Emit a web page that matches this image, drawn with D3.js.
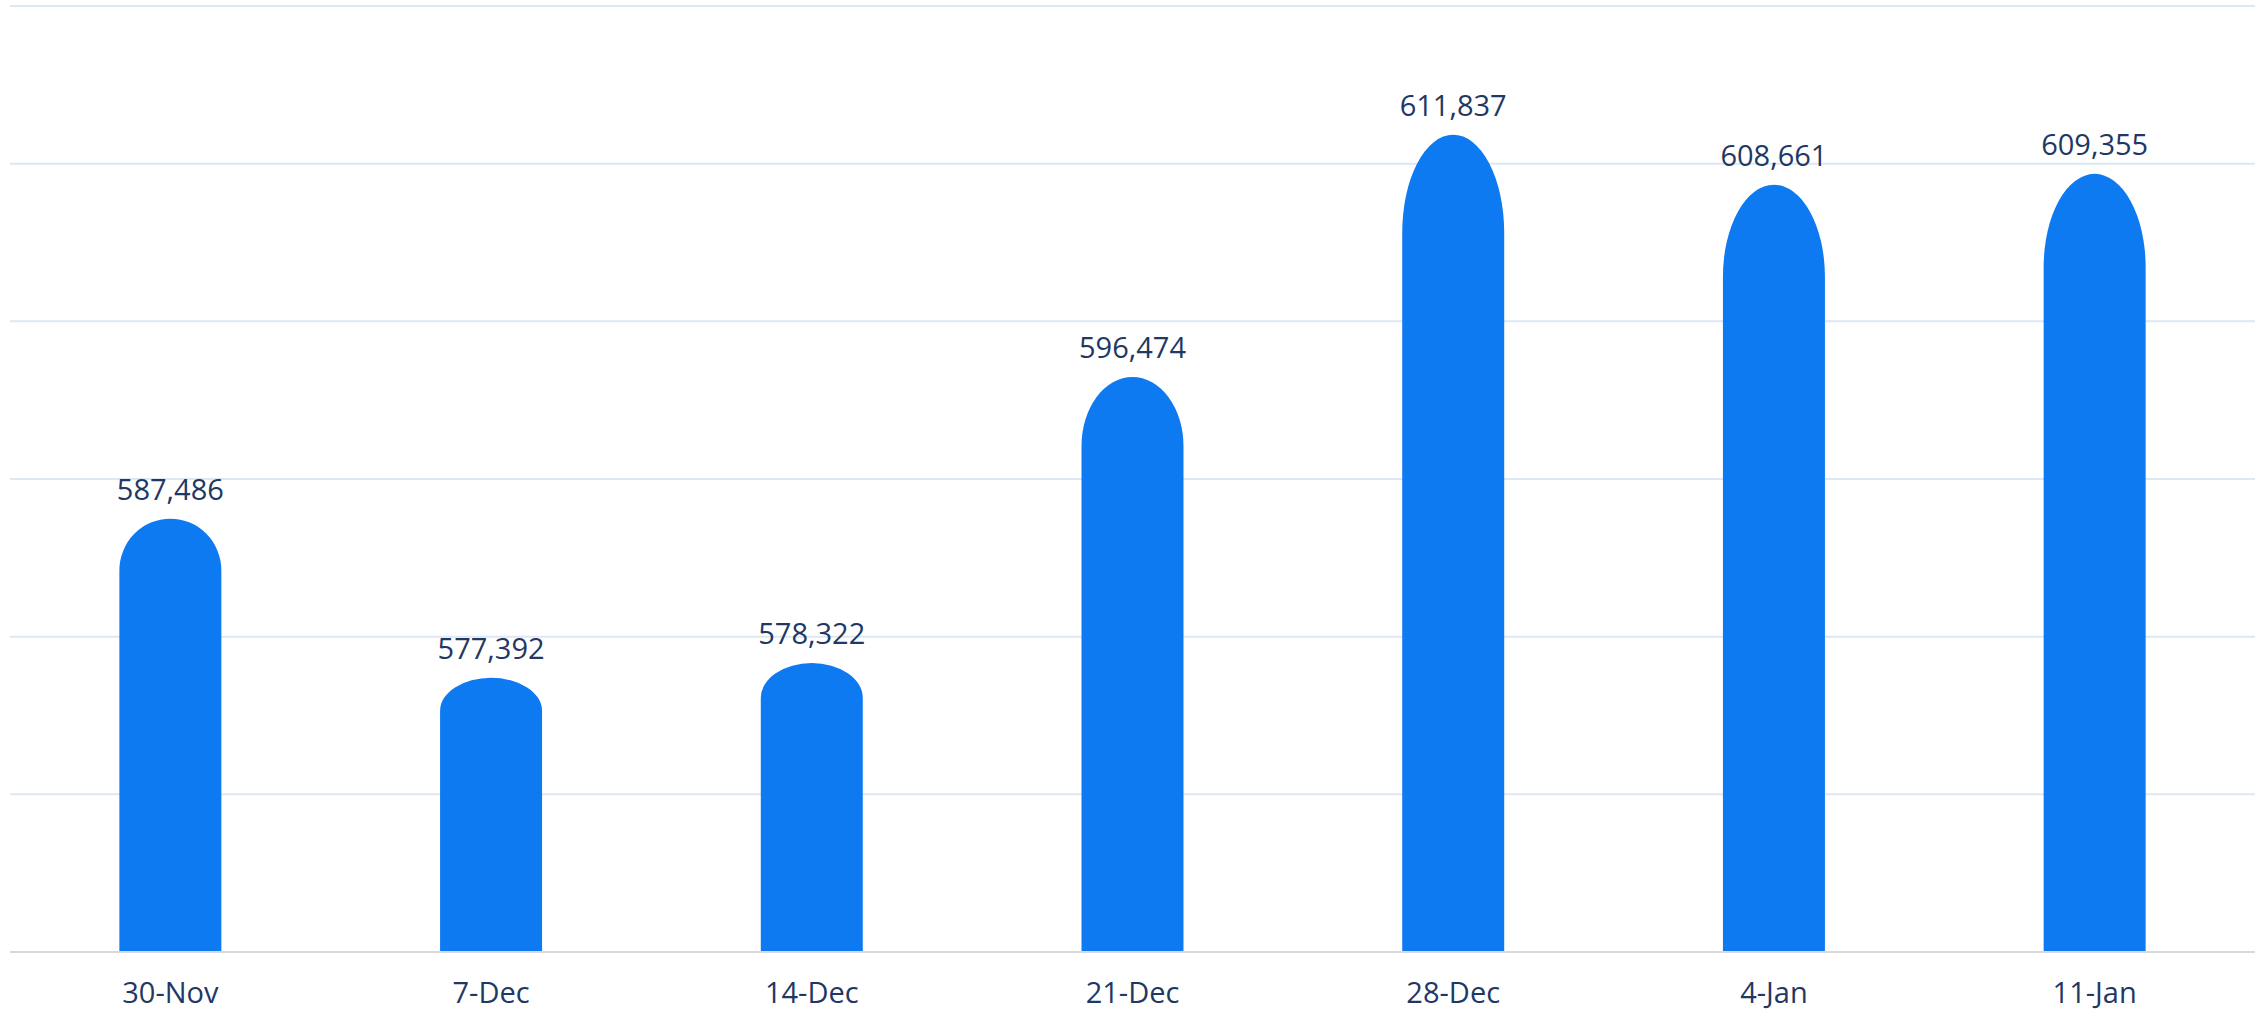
<!DOCTYPE html>
<html>
<head>
<meta charset="utf-8">
<script src="https://cdn.jsdelivr.net/npm/d3@7"></script>
<style>
html,body{margin:0;padding:0;background:#fff;}
svg{display:block;}
</style>
</head>
<body>
<svg id="chart" width="2267" height="1012"></svg>
<script>
const categories = ["30-Nov","7-Dec","14-Dec","21-Dec","28-Dec","4-Jan","11-Jan"];
const values = [587486, 577392, 578322, 596474, 611837, 608661, 609355];
const yTicks = [560000, 570000, 580000, 590000, 600000, 610000, 620000];
const yDomain = [560000, 620000];

const W = 2267, H = 1012;
const margin = {left: 10, right: 12, top: 6, bottom: 60};
const svg = d3.select("#chart");

const x = d3.scaleBand().domain(categories).range([margin.left, W - margin.right]).paddingInner(0.682).paddingOuter(0.341);
const y = d3.scaleLinear().domain(yDomain).range([H - margin.bottom, margin.top]);

const font = "'Open Sans', 'Noto Sans', sans-serif";
const textColor = "#1F3864";

// gridlines
svg.append("g").selectAll("line").data(yTicks.slice(1)).join("line")
  .attr("x1", margin.left).attr("x2", W - margin.right)
  .attr("y1", d => y(d)).attr("y2", d => y(d))
  .attr("stroke", "#DDE8F4").attr("stroke-width", 2);

// bars with elliptical domes
const base = y(yDomain[0]);
function barPath(d, i) {
  const x0 = x(categories[i]), w = x.bandwidth(), top = y(d);
  const h = base - top;
  const ry = h * 0.12, rx = w / 2;
  return `M${x0},${base} L${x0},${top + ry} A${rx},${ry} 0 0 1 ${x0 + w},${top + ry} L${x0 + w},${base} Z`;
}
svg.append("g").selectAll("path").data(values).join("path")
  .attr("d", barPath)
  .attr("fill", "#0E7AF2");

// axis line
const xAxis = d3.axisBottom(x).tickSize(0).tickPadding(0);
const gx = svg.append("g").attr("transform", `translate(0,${base})`).call(xAxis);
gx.select(".domain").attr("stroke", "#D9D9D9").attr("stroke-width", 2).attr("d", `M${margin.left},0H${W - margin.right}`);
gx.selectAll("text").attr("font-family", font).attr("font-size", 29).attr("fill", textColor)
  .attr("dy", null).attr("y", 51);

// value labels
svg.append("g").selectAll("text").data(values).join("text")
  .attr("x", (d, i) => x(categories[i]) + x.bandwidth() / 2)
  .attr("y", d => y(d) - 19)
  .attr("text-anchor", "middle")
  .attr("font-family", font).attr("font-size", 29).attr("fill", textColor)
  .text(d => d3.format(",")(d));
</script>
</body>
</html>
